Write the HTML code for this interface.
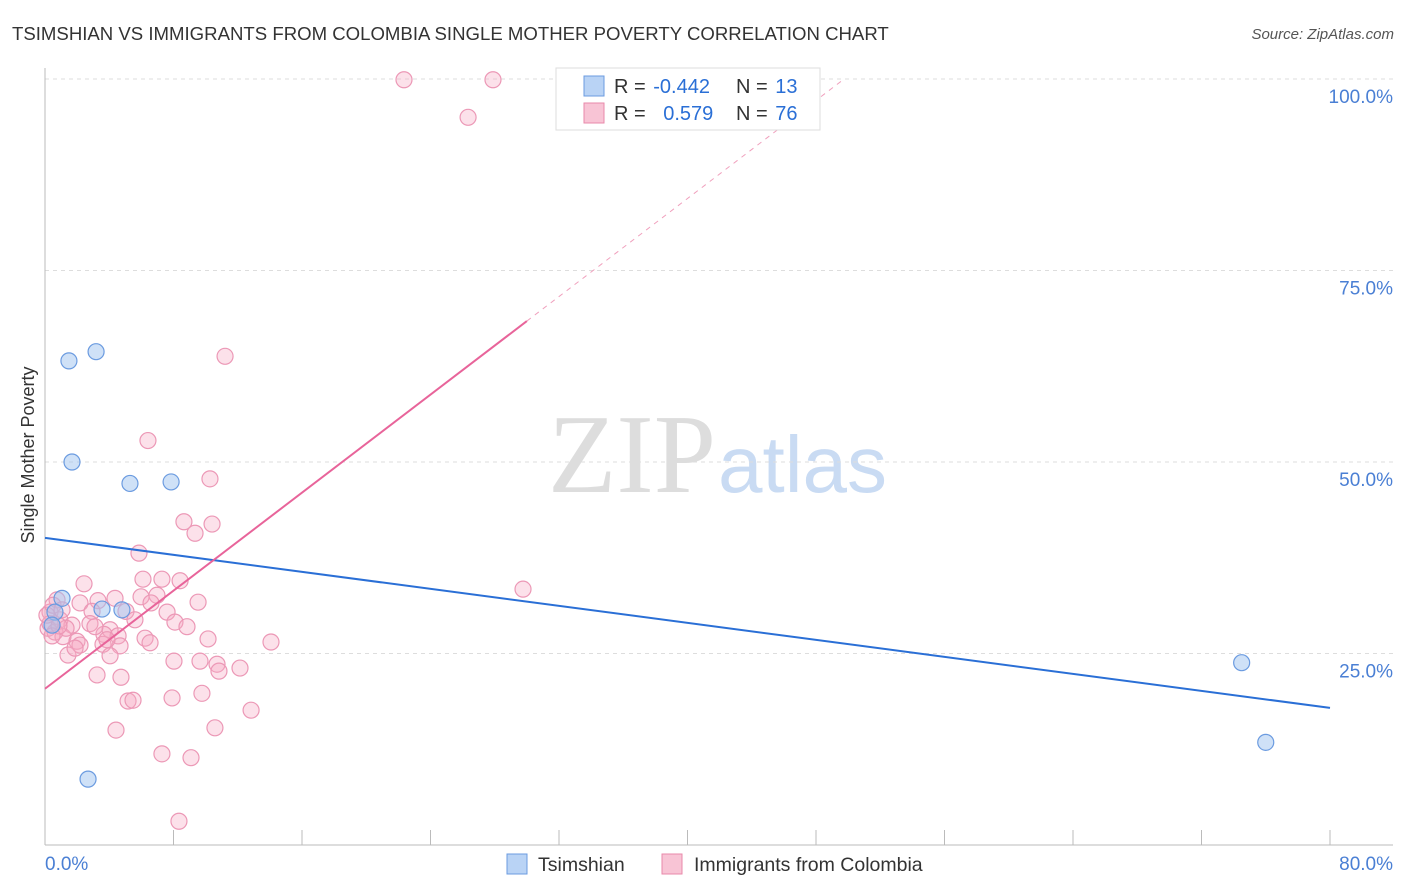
<!DOCTYPE html>
<html><head><meta charset="utf-8"><style>
body{margin:0;background:#fff;font-family:"Liberation Sans",sans-serif;}
#wrap{position:relative;width:1406px;height:892px;overflow:hidden;}
</style></head><body>
<div id="wrap">
<svg id="svg" width="1406" height="892" xmlns="http://www.w3.org/2000/svg">
<text x="12" y="40" font-size="18.6" fill="#333">TSIMSHIAN VS IMMIGRANTS FROM COLOMBIA SINGLE MOTHER POVERTY CORRELATION CHART</text>
<text x="1394" y="39" font-size="15" fill="#555" font-style="italic" text-anchor="end">Source: ZipAtlas.com</text>
<text x="716" y="492" font-size="112" fill="#ddd" text-anchor="end" font-family="Liberation Serif,serif">ZIP</text>
<text x="718" y="492" font-size="80" fill="#c9dbf3">atlas</text>
<text x="34" y="455" font-size="18" fill="#333" text-anchor="middle" transform="rotate(-90 34 455)">Single Mother Poverty</text>
<g id="grid"></g><g id="marks"></g><g id="lines"></g>
<g>
<rect x="556" y="68" width="264" height="62" fill="#fff" stroke="#ddd"/>
<rect x="584" y="76" width="20" height="20" fill="#b9d3f5" stroke="#6b9be0"/>
<text x="614" y="93" font-size="20" fill="#333">R = <tspan fill="#2a6fd6" dx="2">-0.442</tspan></text>
<text x="736" y="93" font-size="20" fill="#333">N = <tspan fill="#2a6fd6" dx="2">13</tspan></text>
<rect x="584" y="103" width="20" height="20" fill="#f8c4d5" stroke="#e889aa"/>
<text x="614" y="120" font-size="20" fill="#333">R = <tspan fill="#2a6fd6" dx="12">0.579</tspan></text>
<text x="736" y="120" font-size="20" fill="#333">N = <tspan fill="#2a6fd6" dx="2">76</tspan></text>
</g>
<g>
<rect x="507" y="854" width="20" height="20" fill="#b9d3f5" stroke="#6b9be0"/>
<text x="538" y="871" font-size="19.5" fill="#333">Tsimshian</text>
<rect x="662" y="854" width="20" height="20" fill="#f8c4d5" stroke="#e889aa"/>
<text x="694" y="871" font-size="19.5" fill="#333">Immigrants from Colombia</text>
</g>
</svg>
</div>
<script>
const xTicks=[0,8,16,24,32,40,48,56,64,72,80];
const yTicks=[25,50,75,100];
const blueX=[1.49,3.18,1.68,5.29,7.85,1.06,0.62,3.55,4.79,0.44,2.68,74.5,76.0];
const blueY=[63.2,64.4,50.0,47.2,47.4,32.2,30.4,30.8,30.7,28.7,8.6,23.8,13.4];
const pinkX=[22.35,27.89,26.34,11.21,6.41,10.27,8.65,10.40,9.34,5.85,2.43,6.10,7.28,8.41,0.75,2.18,3.30,4.36,5.98,6.97,9.53,6.60,2.93,5.04,7.60,0.31,0.93,1.68,2.80,5.60,8.09,8.84,4.05,0.19,0.62,1.12,1.99,3.67,4.55,6.23,6.54,10.15,14.07,3.61,4.67,1.43,4.05,8.03,9.65,10.71,12.14,10.83,3.24,4.73,9.77,7.91,5.17,5.48,12.83,4.42,10.58,7.28,9.09,8.34,29.76,0.31,0.44,2.18,1.87,1.31,3.11,3.86,0.87,0.12,0.50,1.06];
const pinkY=[99.9,99.9,95.0,63.8,52.8,47.8,42.2,41.9,40.7,38.1,34.1,34.7,34.7,34.5,32.0,31.6,31.9,32.2,32.4,32.6,31.7,31.6,30.5,30.5,30.4,30.4,29.4,28.7,28.9,29.4,29.1,28.5,28.1,28.3,27.8,27.2,26.6,27.5,27.3,27.0,26.4,26.9,26.5,26.2,26.0,24.8,24.7,24.0,24.0,23.6,23.1,22.7,22.2,21.9,19.8,19.2,18.8,18.9,17.6,15.0,15.3,11.9,11.4,3.1,33.4,28.9,27.3,26.1,25.7,28.3,28.5,26.8,28.6,30.0,31.3,30.7];
const blueTrend=[40.1,-0.2775];
const pinkTrend=[20.4,1.6];
const NS="http://www.w3.org/2000/svg";
const X=v=>45+v/80*1285, Y=v=>845-v/100*766;
function mk(t,a,p){const e=document.createElementNS(NS,t);for(const k in a)e.setAttribute(k,a[k]);p.appendChild(e);return e;}
const grid=document.getElementById('grid'),marks=document.getElementById('marks'),lines=document.getElementById('lines');
yTicks.forEach(t=>{
 const l=mk('line',{x1:45,x2:1393,y1:Y(t),y2:Y(t),stroke:'#ddd','stroke-dasharray':'4,4'},grid);
 
 
 const tx=mk('text',{x:1393,y:Y(t)+24,'font-size':19,fill:'#4a7fd4','text-anchor':'end'},grid);
 tx.textContent=t.toFixed(1)+'%';
 
 
});
mk('line',{x1:45,x2:45,y1:68,y2:845,stroke:'#bbb'},grid);
mk('line',{x1:45,x2:1393,y1:845,y2:845,stroke:'#bbb'},grid);
xTicks.forEach(t=>{
 const l=mk('line',{x1:X(t),x2:X(t),y1:830,y2:845,stroke:'#bbb'},grid);
 
 
});
[[0,'0.0%','start',45],[80,'80.0%','end',1393]].forEach(a=>{
 const tx=mk('text',{x:a[3],y:870,'font-size':19,fill:'#4a7fd4','text-anchor':a[2]},grid);
 tx.textContent=a[1];
 
 
});
pinkX.forEach((x,i)=>{
 const c=mk('circle',{cx:X(x),cy:Y(pinkY[i]),r:8,fill:'rgba(246,170,196,0.35)',stroke:'#ec98b6','stroke-width':1.2},marks);
 
 
});
blueX.forEach((x,i)=>{
 const c=mk('circle',{cx:X(x),cy:Y(blueY[i]),r:8,fill:'rgba(160,195,240,0.5)',stroke:'#6b9be0','stroke-width':1.2},marks);
 
 
});
const bl=mk('line',{x1:X(0),y1:Y(blueTrend[0]),x2:X(80),y2:Y(blueTrend[0]+blueTrend[1]*80),stroke:'#2a6fd6','stroke-width':2},lines);


const xs=30,xe=(100-pinkTrend[0])/pinkTrend[1];
const pl=mk('line',{x1:X(0),y1:Y(pinkTrend[0]),x2:X(xs),y2:Y(pinkTrend[0]+pinkTrend[1]*xs),stroke:'#e8649a','stroke-width':2},lines);


const pd=mk('line',{x1:X(xs),y1:Y(pinkTrend[0]+pinkTrend[1]*xs),x2:X(xe),y2:Y(100),stroke:'#f0a0bd','stroke-width':1,'stroke-dasharray':'5,5'},lines);


</script>
</body></html>
